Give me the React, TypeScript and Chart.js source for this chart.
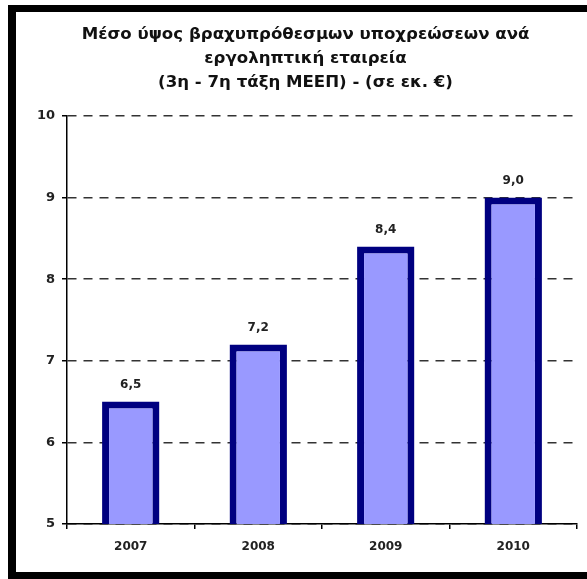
import React, { useEffect, useRef } from "react";
import { Chart, registerables } from "chart.js";

Chart.register(...registerables);

const years = ["2007", "2008", "2009", "2010"];
const avgShortTermLiabilities = [6.5, 7.2, 8.4, 9.0];
const yMin = 5;
const yMax = 10;
const titleLines = [
  "Μέσο ύψος βραχυπρόθεσμων υποχρεώσεων ανά",
  "εργοληπτική εταιρεία",
  "(3η - 7η τάξη ΜΕΕΠ) - (σε εκ. €)",
];

const FONT = "'DejaVu Sans', Verdana, sans-serif";

// Writes each bar's value (decimal comma) just above its top edge.
const valueLabels = {
  id: "valueLabels",
  afterDatasetsDraw(chart: any) {
    const { ctx } = chart;
    const meta = chart.getDatasetMeta(0);
    const data = chart.data.datasets[0].data as number[];
    ctx.save();
    ctx.font = `bold 12px ${FONT}`;
    ctx.fillStyle = "#222";
    ctx.textAlign = "center";
    ctx.textBaseline = "middle";
    meta.data.forEach((bar: any, i: number) => {
      const txt = data[i].toFixed(1).replace(".", ",");
      ctx.fillText(txt, bar.x, bar.y - 17);
    });
    ctx.restore();
  },
};

export default function App() {
  const canvasRef = useRef<HTMLCanvasElement>(null);

  useEffect(() => {
    document.body.style.overflow = "hidden";
    const canvas = canvasRef.current;
    if (!canvas) return;
    const chart = new Chart(canvas, {
      type: "bar",
      data: {
        labels: years,
        datasets: [
          {
            data: avgShortTermLiabilities,
            backgroundColor: "#9999ff",
            borderColor: "#000080",
            borderWidth: 7,
            borderSkipped: false,
            categoryPercentage: 1,
            barPercentage: 0.45,
          },
        ],
      },
      options: {
        responsive: false,
        animation: false,
        devicePixelRatio: 1,
        layout: { padding: { left: 18, right: 10, top: 0, bottom: 0 } },
        plugins: {
          legend: { display: false },
          tooltip: { enabled: false },
          title: {
            display: true,
            text: titleLines,
            color: "#111",
            font: { family: FONT, size: 16.6, weight: "bold", lineHeight: "24px" },
            padding: { top: 11, bottom: 21 },
          },
        },
        scales: {
          x: {
            grid: {
              display: true,
              drawOnChartArea: false,
              drawTicks: true,
              offset: true,
              tickLength: 5,
              color: "#000",
              lineWidth: 1.5,
            },
            border: { display: true, color: "#000", width: 1.5 },
            ticks: {
              color: "#222",
              padding: 11,
              font: { family: FONT, size: 12, weight: "bold" },
            },
            afterFit(scale: any) {
              scale.height = 48;
            },
          },
          y: {
            min: yMin,
            max: yMax,
            grid: {
              color: "#333",
              lineWidth: 1.5,
              tickLength: 5,
              tickColor: "#000",
            },
            border: { display: true, color: "#000", width: 1.5, dash: [9, 7] },
            ticks: {
              stepSize: 1,
              color: "#222",
              padding: 7,
              font: { family: FONT, size: 13, weight: "bold" },
            },
            afterFit(scale: any) {
              scale.width = 33;
            },
          },
        },
      },
      plugins: [valueLabels],
    });
    return () => chart.destroy();
  }, []);

  return (
    <div
      style={{
        position: "absolute",
        left: 8,
        top: 5,
        width: 620,
        height: 574,
        boxSizing: "border-box",
        borderLeft: "8px solid #000",
        borderTop: "7px solid #000",
        borderBottom: "7px solid #000",
        background: "#fff",
        overflow: "hidden",
      }}
    >
      <canvas ref={canvasRef} width={571} height={560} style={{ display: "block" }} />
    </div>
  );
}
